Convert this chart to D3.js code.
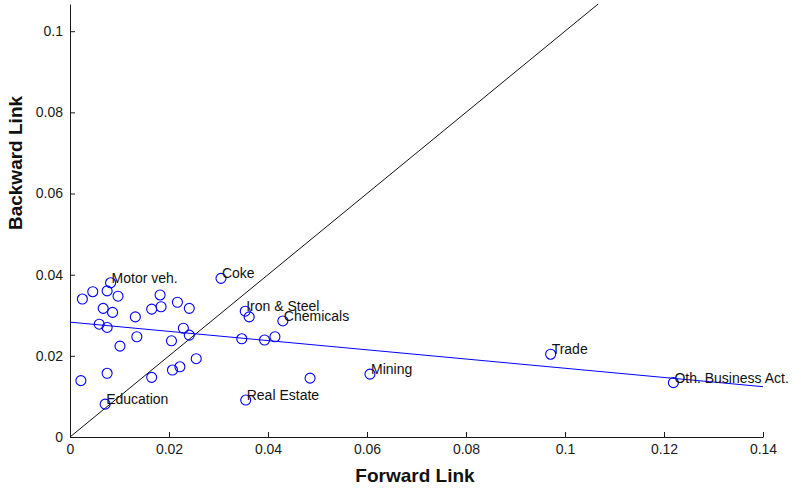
<!DOCTYPE html>
<html>
<head>
<meta charset="utf-8">
<script src="https://cdn.jsdelivr.net/npm/d3@7"></script>
<style>
	body { margin: 0; background: #fff; }
	svg { display: block; font-family: "Liberation Sans", Arial, sans-serif; }
</style>
</head>
<body>
<div id="chart"></div>
<script>
// forward / backward linkage per sector
var fwd = [0.0025, 0.0046, 0.0075, 0.0082, 0.0097, 0.0067, 0.0086, 0.0059, 0.0075, 0.0101,
	0.0132, 0.0135, 0.0165, 0.0182, 0.0184, 0.0217, 0.0241, 0.0229, 0.0241, 0.0205,
	0.0255, 0.0207, 0.0222, 0.0165, 0.0075, 0.0022, 0.0071, 0.0305, 0.0354, 0.0362,
	0.0347, 0.0393, 0.0414, 0.0430, 0.0485, 0.0355, 0.0606, 0.0971, 0.1219];
var bwd = [0.0340, 0.0358, 0.0360, 0.0380, 0.0347, 0.0317, 0.0307, 0.0278, 0.0270, 0.0224,
	0.0296, 0.0247, 0.0315, 0.0350, 0.0321, 0.0332, 0.0317, 0.0268, 0.0251, 0.0237,
	0.0193, 0.0165, 0.0173, 0.0147, 0.0157, 0.0139, 0.0081, 0.0391, 0.0310, 0.0296,
	0.0242, 0.0239, 0.0247, 0.0286, 0.0145, 0.0091, 0.0155, 0.0204, 0.0134];
var names = ["", "", "", "Motor veh.", "", "", "", "", "", "",
	"", "", "", "", "", "", "", "", "", "",
	"", "", "", "", "", "", "Education", "Coke", "Iron & Steel", "",
	"", "", "", "Chemicals", "", "Real Estate", "Mining", "Trade", "Oth. Business Act."];

// fitted line end points and the 45 degree reference
var fitX = [0, 0.14];
var fitY = [0.0283, 0.0124];
var diagXY = [0, 0.1067];

var xTicks = [0, 0.02, 0.04, 0.06, 0.08, 0.1, 0.12, 0.14];
var yTicks = [0, 0.02, 0.04, 0.06, 0.08, 0.1];

var width = 801, height = 489;
var svg = d3.select("#chart").append("svg")
	.attr("width", width)
	.attr("height", height);

var x = d3.scaleLinear().domain([0, 0.14]).range([70, 763]);
var y = d3.scaleLinear().domain([0, 0.1067]).range([437, 4]);

var axisColor = "#1a1a1a";

// axes (ticks point inward like matlab)
var xAxis = svg.append("g")
	.attr("transform", "translate(0,437)")
	.call(d3.axisBottom(x).tickValues(xTicks).tickSize(-5).tickSizeOuter(0)
		.tickFormat(function(d){ return d3.format("")(+d.toFixed(2)); }));
xAxis.select(".domain").attr("stroke", axisColor);
xAxis.selectAll(".tick line").attr("stroke", axisColor);
xAxis.selectAll(".tick text")
	.attr("y", 7)
	.attr("dy", "0.71em")
	.attr("fill", "#1a1a1a")
	.style("font-size", "14px");

var yAxis = svg.append("g")
	.attr("transform", "translate(70,0)")
	.call(d3.axisLeft(y).tickValues(yTicks).tickSize(-5).tickSizeOuter(0)
		.tickFormat(function(d){ return d3.format("")(+d.toFixed(2)); }));
yAxis.select(".domain").attr("stroke", axisColor);
yAxis.selectAll(".tick line").attr("stroke", axisColor);
yAxis.selectAll(".tick text")
	.attr("x", -7)
	.attr("fill", "#1a1a1a")
	.style("font-size", "14px");

// 45 degree line
svg.append("line")
	.attr("x1", x(diagXY[0])).attr("y1", y(diagXY[0]))
	.attr("x2", x(diagXY[1])).attr("y2", y(diagXY[1]))
	.attr("stroke", "#111")
	.attr("stroke-width", 1);

// fitted line
svg.append("line")
	.attr("x1", x(fitX[0])).attr("y1", y(fitY[0]))
	.attr("x2", x(fitX[1])).attr("y2", y(fitY[1]))
	.attr("stroke", "#0000ff")
	.attr("stroke-width", 1);

var pts = fwd.map(function(d, i){ return {f: d, b: bwd[i], name: names[i]}; });

svg.selectAll("circle.sector")
	.data(pts)
	.enter().append("circle")
	.attr("class", "sector")
	.attr("cx", function(d){ return x(d.f); })
	.attr("cy", function(d){ return y(d.b); })
	.attr("r", 5)
	.attr("fill", "none")
	.attr("stroke", "#0000ff")
	.attr("stroke-width", 1.1);

svg.selectAll("text.sector")
	.data(pts.filter(function(d){ return d.name != ""; }))
	.enter().append("text")
	.attr("class", "sector")
	.attr("x", function(d){ return x(d.f) + 1; })
	.attr("y", function(d){ return y(d.b); })
	.attr("fill", "#111")
	.style("font-size", "14px")
	.text(function(d){ return d.name; });

// axis titles
svg.append("text")
	.attr("x", 415)
	.attr("y", 482)
	.attr("text-anchor", "middle")
	.style("font-size", "19px")
	.style("font-weight", "bold")
	.attr("fill", "#111")
	.text("Forward Link");

svg.append("text")
	.attr("transform", "translate(22,163) rotate(-90)")
	.attr("text-anchor", "middle")
	.style("font-size", "19px")
	.style("font-weight", "bold")
	.attr("fill", "#111")
	.text("Backward Link");
</script>
</body>
</html>
